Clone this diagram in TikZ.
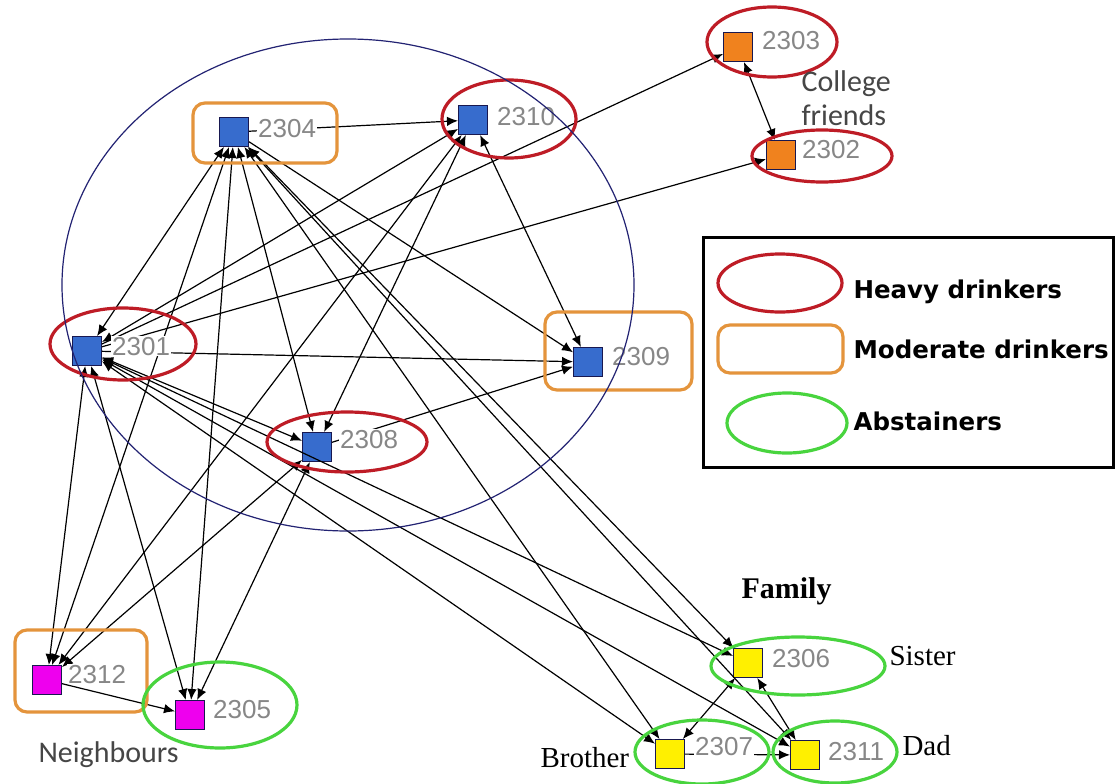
\documentclass[tikz,border=0pt]{standalone}
\usepackage{fontspec}
\setmainfont{Liberation Serif}
\newfontfamily\idfont{Liberation Sans}
\newfontfamily\calfont{Carlito}
\newfontfamily\legfont{DejaVu Sans}
\usetikzlibrary{arrows.meta}

\definecolor{heavyred}{RGB}{190,28,38}
\definecolor{modorange}{RGB}{228,148,60}
\definecolor{abstgreen}{RGB}{72,212,62}
\definecolor{navy}{RGB}{35,35,115}
\definecolor{nodeblue}{RGB}{55,108,205}
\definecolor{nodeorange}{RGB}{240,130,30}
\definecolor{nodemagenta}{RGB}{238,0,238}
\definecolor{nodeyellow}{RGB}{255,240,0}
\definecolor{idgray}{RGB}{135,135,135}
\definecolor{notegray}{RGB}{70,70,70}

\tikzset{
  sq/.style={draw=navy!70!black, line width=1pt, minimum size=29pt, inner sep=0pt},
  bluesq/.style={sq, fill=nodeblue},
  orangesq/.style={sq, fill=nodeorange},
  magsq/.style={sq, fill=nodemagenta},
  yellowsq/.style={sq, fill=nodeyellow},
  idlabel/.style={anchor=base west, font=\idfont\fontsize{26}{28}\selectfont,
    text=idgray, fill=white, inner sep=1pt},
  edge/.style={line width=1.2pt, black},
  heavy/.style={draw=heavyred, line width=3.2pt},
  moderate/.style={draw=modorange, line width=3.2pt, rounded corners=12pt},
  abst/.style={draw=abstgreen, line width=3.2pt},
  note/.style={anchor=base west, font=\calfont\fontsize{30}{33}\selectfont, text=notegray},
  family/.style={anchor=base west, font=\fontsize{29}{31}\selectfont},
  legtext/.style={anchor=base west, font=\legfont\bfseries\fontsize{24.5}{27}\selectfont},
  >={Latex[length=11pt,width=9.5pt]}
}

\begin{document}
\begin{tikzpicture}[x=1pt, y=-1pt]
\useasboundingbox (0,0) rectangle (1117,784);
\fill[white] (0,0) rectangle (1117,784);

% actors
\node[bluesq]    (n2304) at (234,132) {};
\node[bluesq]    (n2310) at (473,120) {};
\node[orangesq]  (n2303) at (738,47)  {};
\node[orangesq]  (n2302) at (781,155) {};
\node[bluesq]    (n2301) at (87,351)  {};
\node[bluesq]    (n2308) at (317,447) {};
\node[bluesq]    (n2309) at (588,362) {};
\node[magsq]     (n2312) at (47,680)  {};
\node[magsq]     (n2305) at (190,715) {};
\node[yellowsq]  (n2306) at (748,663) {};
\node[yellowsq]  (n2307) at (670,754) {};
\node[yellowsq]  (n2311) at (805,755) {};

% ties
\draw[edge, ->]  (n2304) -- (n2310);
\draw[edge, <->] (n2304) -- (n2301);
\draw[edge, <->] (n2304) -- (n2312);
\draw[edge, <->] (n2304) -- (n2305);
\draw[edge, <->] (n2304) -- (n2308);
\draw[edge, ->]  (n2304) -- (n2309);
\draw[edge, <->] (n2304) -- (n2306);
\draw[edge, <->] (n2304) -- (n2307);
\draw[edge, <->] (n2304) -- (n2311);
\draw[edge, ->]  (n2301) -- (n2303);
\draw[edge, ->]  (n2301) -- (n2302);
\draw[edge, <->] (n2301) -- (n2310);
\draw[edge, ->]  (n2301) -- (n2309);
\draw[edge, <->] (n2301) -- (n2308);
\draw[edge, <->] (n2301) -- (n2312);
\draw[edge, <->] (n2301) -- (n2305);
\draw[edge, <->] (n2301) -- (n2306);
\draw[edge, <->] (n2301) -- (n2307);
\draw[edge, <->] (n2301) -- (n2311);
\draw[edge, <->] (n2310) -- (n2308);
\draw[edge, <->] (n2310) -- (n2309);
\draw[edge, <->] (n2310) -- (n2312);
\draw[edge, ->]  (n2308) -- (n2309);
\draw[edge, <->] (n2308) -- (n2312);
\draw[edge, <->] (n2308) -- (n2305);
\draw[edge, <->] (n2303) -- (n2302);
\draw[edge, ->]  (n2312) -- (n2305);
\draw[edge, <->] (n2306) -- (n2307);
\draw[edge, <->] (n2306) -- (n2311);
\draw[edge, ->]  (n2307) -- (n2311);

% identifiers
\node[idlabel] (l2304) at (257,137) {2304};
\node[idlabel] (l2310) at (496,125) {2310};
\node[idlabel] (l2303) at (761,50)  {2303};
\node[idlabel] (l2302) at (801,158) {2302};
\node[idlabel] (l2301) at (111,355) {2301};
\node[idlabel] (l2308) at (339,448) {2308};
\node[idlabel] (l2309) at (611,365) {2309};
\node[idlabel] (l2312) at (67,683)  {2312};
\node[idlabel] (l2305) at (212,718) {2305};
\node[idlabel] (l2306) at (771,667) {2306};
\node[idlabel] (l2307) at (694,755) {2307};
\node[idlabel] (l2311) at (827,760) {2311};

% drinking categories
\draw[moderate] (193,103) rectangle (337,163);
\draw[heavy] (509,119) ellipse [x radius=67pt, y radius=39pt];
\draw[heavy] (772,42) ellipse [x radius=65pt, y radius=35pt];
\draw[heavy] (822,156) ellipse [x radius=70pt, y radius=26pt];
\draw[heavy] (123,344) ellipse [x radius=73pt, y radius=36pt];
\draw[heavy] (347,442) ellipse [x radius=80pt, y radius=30pt];
\draw[moderate] (545,312) rectangle (692,390);
\draw[moderate] (15,630) rectangle (147,712);
\draw[abst] (220,705) ellipse [x radius=77pt, y radius=43pt];
\draw[abst] (798,666) ellipse [x radius=87pt, y radius=29pt];
\draw[abst] (702,752) ellipse [x radius=67pt, y radius=32pt];
\draw[abst] (835,752) ellipse [x radius=62pt, y radius=31pt];

% core group
\draw[navy, line width=1.2pt] (348,285) ellipse [x radius=286pt, y radius=246pt];

% group captions
\node[note] (college) at (798,92) {College};
\node[note] (friends) at (798,125) {friends};
\node[note] (neigh) at (35,762) {Neighbours};
\node[family, font=\bfseries\fontsize{30}{32}\selectfont] (fam) at (738,598) {Family};
\node[family] (sister) at (886,665) {Sister};
\node[family] (brother) at (537,767) {Brother};
\node[family] (dad) at (899,755) {Dad};

% legend
\draw[black, line width=3pt] (703,237) rectangle (1113,467);
\draw[heavy] (780,283) ellipse [x radius=62pt, y radius=29pt];
\draw[moderate] (718,325) rectangle (843,373);
\draw[abst] (787,423) ellipse [x radius=60pt, y radius=30pt];
\node[legtext] (lh) at (850,298) {Heavy drinkers};
\node[legtext] (lm) at (850,358) {Moderate drinkers};
\node[legtext] (la) at (850,430) {Abstainers};
\end{tikzpicture}
\end{document}
